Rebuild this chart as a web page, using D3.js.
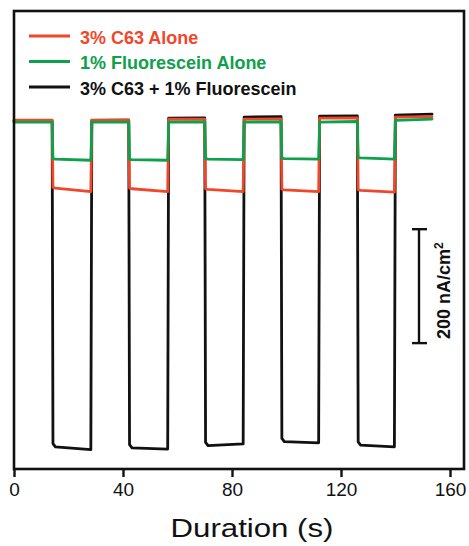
<!DOCTYPE html>
<html>
<head>
<meta charset="utf-8">
<title>Photocurrent vs duration</title>
<style>
  body { margin: 0; background: #fff; }
  svg { display: block; font-family: "Liberation Sans", Arial, sans-serif; }
  .trace { fill: none; stroke-width: 2.8px; stroke-linejoin: round; stroke-linecap: round; }
  .frame { fill: none; stroke: #111; stroke-width: 2.6px; }
  .xaxis text { font-size: 19px; fill: #111; }
  .xaxis line { stroke: #111; stroke-width: 2.4px; }
  .legend text { font-size: 18px; font-weight: bold; }
</style>
</head>
<body>
<div id="vis"></div>
<script src="https://cdn.jsdelivr.net/npm/d3@7"></script>
<script>
// light on / off switching times (s)
var onTimes = [14, 42.1, 70, 98, 126];
var offTimes = [28.2, 56.4, 84.1, 111.8, 139.6];
var endTime = 153.4;

// current levels (nA/cm2), [start, end] of each plateau
var c63High = [[3.5, 3.5], [3.5, 4], [5, 5.3], [5.3, 5.5], [7, 7.5], [8.8, 9.5]];
var c63Low = [[-116, -122], [-117, -122], [-118, -122], [-119, -122], [-120, -123]];
var fluoHigh = [[0, 0], [0, 0], [0, 0.5], [0, 0.5], [0, 1], [3, 5.3]];
var fluoLow = [[-65, -67], [-66, -67], [-65, -66], [-64, -65], [-63, -65]];
var bothHigh = [[1.8, 1.8], [3, 3.5], [7, 7.5], [8.8, 9.5], [10.5, 11], [12.3, 14]];
var bothLow = [[-570, -575], [-572, -574], [-568, -565], [-561, -563], [-567, -570]];

var xTicks = [0, 40, 80, 120, 160];
var series = [
    {name: "3% C63 + 1% Fluorescein", color: "#111111", high: bothHigh, low: bothLow},
    {name: "3% C63 Alone", color: "#f0472b", high: c63High, low: c63Low},
    {name: "1% Fluorescein Alone", color: "#0ea04b", high: fluoHigh, low: fluoLow}
];
var legendOrder = [1, 2, 0];
var scaleBar = [-188, -388]; // 200 nA/cm2

var width = 469, height = 546;
var plotLeft = 14, plotRight = 464, plotTop = 11, plotBottom = 469;

var x = d3.scaleLinear().domain([0, 160]).range([plotLeft, 450]);
var y = d3.scaleLinear().domain([-609, 195]).range([plotBottom, plotTop]);

var svg = d3.select("#vis").append("svg")
        .attr("width", width)
        .attr("height", height);

// build step trace from plateau levels
function tracePoints(s) {
    var pts = [];
    for (var i = 0; i < s.high.length; i++) {
        var t0 = i === 0 ? 0 : offTimes[i - 1] + 0.35;
        var t1 = i < onTimes.length ? onTimes[i] : endTime;
        pts.push([t0, s.high[i][0]]);
        pts.push([t1, s.high[i][1]]);
        if (i < s.low.length) {
            pts.push([onTimes[i] + 0.3, s.low[i][0] * 0.99]);
            pts.push([onTimes[i] + 1.2, s.low[i][0]]);
            pts.push([offTimes[i], s.low[i][1]]);
            if (i + 1 < s.high.length) pts.push([offTimes[i] + 0.35, s.high[i + 1][0] - 2]);
        }
    }
    return pts;
}

var line = d3.line()
        .x(function(d) { return x(d[0]); })
        .y(function(d) { return y(d[1]); });

svg.selectAll(".trace")
        .data(series)
        .enter()
        .append("path")
        .attr("class", "trace")
        .attr("stroke", function(d) { return d.color; })
        .attr("d", function(d) { return line(tracePoints(d)); });

// frame
svg.append("rect")
        .attr("class", "frame")
        .attr("x", plotLeft)
        .attr("y", plotTop)
        .attr("width", plotRight - plotLeft)
        .attr("height", plotBottom - plotTop);

// x axis
var xAxis = d3.axisBottom(x)
        .tickValues(xTicks)
        .tickSize(8)
        .tickPadding(6);

svg.append("g")
        .attr("class", "xaxis")
        .attr("transform", "translate(0," + plotBottom + ")")
        .call(xAxis)
        .call(function(g) { g.select(".domain").remove(); })
        .selectAll("text")
        .attr("font-family", null)
        .attr("font-size", null);

svg.append("text")
        .attr("x", 252)
        .attr("y", 537)
        .attr("text-anchor", "middle")
        .attr("transform", "translate(252,0) scale(1.2,1) translate(-252,0)")
        .style("font-size", "26px")
        .style("fill", "#111")
        .text("Duration (s)");

// legend
var legend = svg.append("g").attr("class", "legend");
legendOrder.forEach(function(k, i) {
    var s = series[k];
    var ly = 36 + i * 25.5;
    legend.append("line")
            .attr("x1", 29).attr("x2", 70)
            .attr("y1", ly).attr("y2", ly)
            .attr("stroke", s.color)
            .attr("stroke-width", 2.8);
    legend.append("text")
            .attr("x", 80)
            .attr("y", ly + 7.5)
            .attr("fill", s.color)
            .text(s.name);
});

// scale bar
var sb = svg.append("g").attr("stroke", "#111").attr("stroke-width", 2.4);
sb.append("line").attr("x1", 419).attr("x2", 419).attr("y1", y(scaleBar[0])).attr("y2", y(scaleBar[1]));
sb.append("line").attr("x1", 412).attr("x2", 427).attr("y1", y(scaleBar[0])).attr("y2", y(scaleBar[0]));
sb.append("line").attr("x1", 412).attr("x2", 427).attr("y1", y(scaleBar[1])).attr("y2", y(scaleBar[1]));

var lbl = svg.append("text")
        .attr("transform", "translate(450," + 339 + ") rotate(-90)")
        .style("font-size", "18px")
        .style("font-weight", "bold")
        .style("fill", "#111");
lbl.append("tspan").text("200 nA/cm");
lbl.append("tspan").attr("dy", -7).style("font-size", "12px").text("2");
</script>
</body>
</html>
